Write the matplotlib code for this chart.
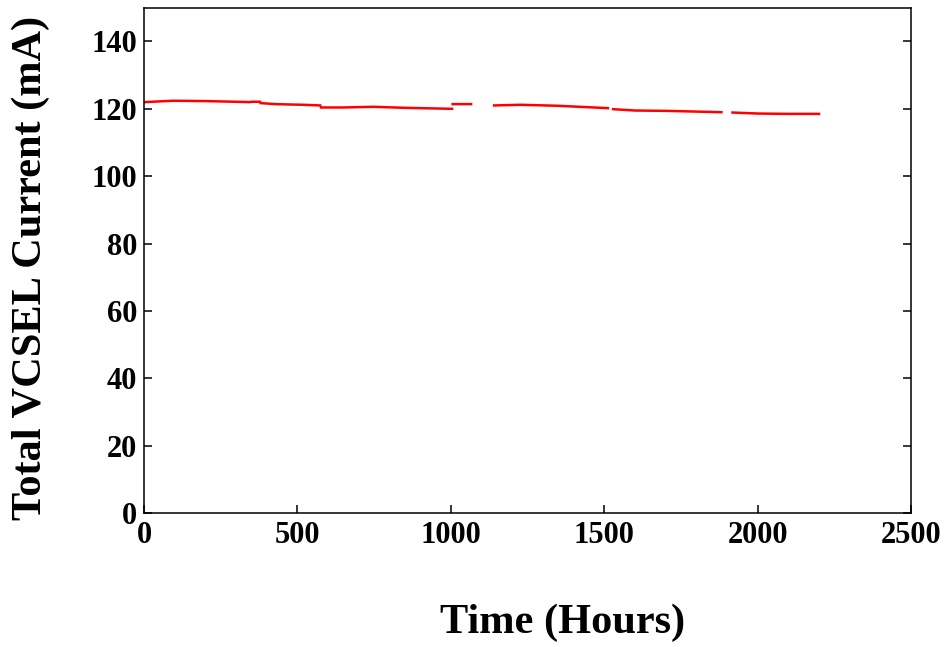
import numpy as np
import matplotlib
matplotlib.use('Agg')
import matplotlib.pyplot as plt

# nan marks the gaps between logging runs
hours = [3, 95, 200, 300, 345, np.nan,
         352, 378, np.nan,
         380, 427, 470, 520, 574, np.nan,
         577, 650, 747, 850, 1004, np.nan,
         1006, 1066, np.nan,
         1141, 1226, 1350, 1512, np.nan,
         1529, 1600, 1700, 1882, np.nan,
         1918, 2000, 2100, 2200]
current = [122.0, 122.4, 122.3, 122.1, 122.0, np.nan,
           122.1, 122.1, np.nan,
           121.7, 121.4, 121.3, 121.2, 121.0, np.nan,
           120.4, 120.4, 120.6, 120.3, 120.0, np.nan,
           121.4, 121.4, np.nan,
           121.0, 121.2, 120.9, 120.2, np.nan,
           119.9, 119.5, 119.4, 119.0, np.nan,
           118.9, 118.6, 118.5, 118.5]

x_ticks = [0, 500, 1000, 1500, 2000, 2500]
y_ticks = [0, 20, 40, 60, 80, 100, 120, 140]

plt.rcParams['font.family'] = ['Liberation Serif', 'DejaVu Serif']
plt.rcParams['font.weight'] = 'bold'

fig = plt.figure(figsize=(9.5, 6.47), dpi=100)
ax = fig.add_axes([0.1516, 0.207, 0.8074, 0.781])

ax.plot(hours, current, color='red', lw=1.8)

ax.set_xlim(0, 2500)
ax.set_ylim(0, 150)
ax.set_xticks(x_ticks)
ax.set_yticks(y_ticks)
ax.tick_params(direction='in', length=6, width=1.1, labelsize=22, right=True)
ax.tick_params(axis='x', pad=6)
ax.tick_params(axis='y', pad=5)
for lab in ax.get_xticklabels() + ax.get_yticklabels():
    lab.set_fontweight('bold')
for s in ax.spines.values():
    s.set_linewidth(1.1)

ax.set_xlabel('Time (Hours)', fontsize=30.5, fontweight='bold')
ax.set_ylabel('Total VCSEL Current (mA)', fontsize=30.5, fontweight='bold')
ax.xaxis.set_label_coords(0.546, -0.18)
ax.yaxis.set_label_coords(-0.122, 0.486)

fig.savefig('out.png', dpi=100)
